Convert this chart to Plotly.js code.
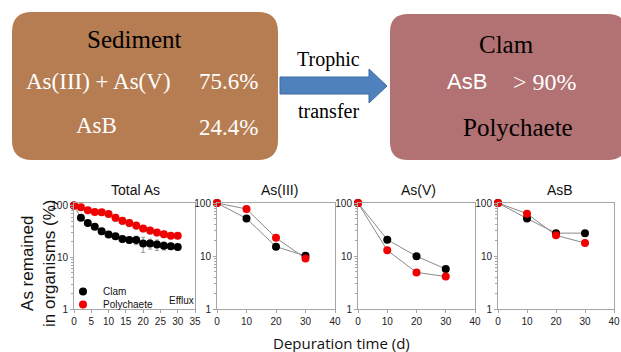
<!DOCTYPE html>
<html>
<head>
<meta charset="utf-8">
<script src="https://cdn.plot.ly/plotly-3.0.1.min.js"></script>
<style>html,body{margin:0;padding:0;background:#fff;}#chart{width:621px;height:352px;}</style>
</head>
<body>
<div id="chart"></div>
<script>
// ---- data ----
const totalDays = [0, 2, 4, 6, 8, 10, 12, 14, 16, 18, 20, 22, 24, 26, 28, 30];
const totalClam = [100, 58, 46, 39, 32, 27.5, 25.5, 22.6, 21.6, 21.6, 18.4, 18.4, 17.6, 16.8, 16.3, 15.8];
const totalClamErr = [0, 3, 3, 3, 3, 3, 3, 3, 3, 4, 6, 4, 4, 3, 2, 2];
const totalPoly = [100, 93, 81, 75, 74, 69, 58, 51, 46, 41, 36, 33, 30, 28, 26, 26];
const totalPolyErr = [0, 3, 4, 4, 5, 6, 8, 8, 7, 6, 5, 5, 4, 4, 3, 3];

const specDays = [0, 10, 20, 30];
const as3Clam = [100, 51, 15, 10.1];
const as3Poly = [100, 77, 22, 9.0];
const as5Clam = [100, 20.3, 9.9, 5.7];
const as5Poly = [100, 12.8, 4.9, 4.1];
const asbClam = [100, 51, 27, 27];
const asbPoly = [100, 63, 24.5, 17.6];

const seriesNames = ['Clam', 'Polychaete'];
const panelTitles = ['Total As', 'As(III)', 'As(V)', 'AsB'];
const yTitle = 'As remained<br>in organisms (%)';
const xTitle = 'Depuration time (d)';

// ---- helpers ----
const W = 621, H = 352;
const X = v => v / W;
const Y = v => 1 - v / H;

const BLACK = '#000000', RED = '#f00000', LINE = '#8a8a8a', AX = '#a6a6a6';
const SANS = 'Liberation Sans, Arial, sans-serif';
const SERIF = 'Liberation Serif, Times New Roman, serif';

const panels = [
  {x: totalDays, c: totalClam, p: totalPoly, ce: totalClamErr, pe: totalPolyErr},
  {x: specDays, c: as3Clam, p: as3Poly},
  {x: specDays, c: as5Clam, p: as5Poly},
  {x: specDays, c: asbClam, p: asbPoly}
];

const traces = [];
panels.forEach((pn, i) => {
  const xa = i === 0 ? 'x' : 'x' + (i + 1);
  const ya = i === 0 ? 'y' : 'y' + (i + 1);
  [pn.c, pn.p].forEach(vals => {
    traces.push({type: 'scatter', mode: 'lines', x: pn.x, y: vals, xaxis: xa, yaxis: ya,
      line: {color: LINE, width: 1}, showlegend: false, hoverinfo: 'skip', cliponaxis: false});
  });
  [[pn.c, BLACK, pn.ce, 0], [pn.p, RED, pn.pe, 1]].forEach(([vals, col, err, k]) => {
    const t = {type: 'scatter', mode: 'markers', x: pn.x, y: vals, xaxis: xa, yaxis: ya,
      name: seriesNames[k], marker: {color: col, size: 8},
      showlegend: i === 0, legend: k === 0 ? 'legend' : 'legend2', cliponaxis: false};
    if (err) t.error_y = {type: 'data', array: err, visible: true, color: '#999', thickness: 1, width: 2};
    traces.push(t);
  });
});

const doms = [[74, 195, 35, 5, 2.05], [217, 335, 40, 10, 2], [358, 475, 40, 10, 2], [498, 614, 40, 10, 2]];
const legBase = {xanchor: 'left', yanchor: 'top', bgcolor: 'rgba(0,0,0,0)',
  font: {family: SANS, size: 10, color: '#111'}, itemwidth: 30};
const layout = {
  width: W, height: H, margin: {l: 0, r: 0, t: 0, b: 0},
  paper_bgcolor: '#ffffff', plot_bgcolor: 'rgba(0,0,0,0)',
  font: {family: SANS, size: 10, color: '#222'},
  showlegend: true,
  legend: Object.assign({x: X(63), y: Y(277)}, legBase),
  legend2: Object.assign({x: X(63), y: Y(290)}, legBase),
  shapes: [], annotations: []
};
doms.forEach((d, i) => {
  const sfx = i === 0 ? '' : String(i + 1);
  layout['xaxis' + sfx] = {domain: [X(d[0]), X(d[1])], range: [0, d[2]], dtick: d[3], tick0: 0,
    anchor: 'y' + sfx, showline: true, linecolor: AX, linewidth: 1, mirror: true,
    ticks: 'outside', ticklen: 3, tickcolor: AX, showgrid: false, zeroline: false,
    tickfont: {family: SANS, size: 10, color: '#222'}};
  layout['yaxis' + sfx] = {domain: [Y(309), Y(203)], type: 'log', range: [0, d[4]], dtick: 1,
    anchor: 'x' + sfx, showline: true, linecolor: AX, linewidth: 1, mirror: true,
    ticks: 'outside', ticklen: 3, tickcolor: AX, showgrid: false, zeroline: false,
    minor: {dtick: 'D1', ticks: 'outside', ticklen: 2, tickcolor: AX, showgrid: false},
    tickfont: {family: SANS, size: 10, color: '#222'}};
});

// rounded rectangle path in paper coordinates
function rr(x0, y0, x1, y1, r) {
  const P = (a, b) => X(a) + ',' + Y(b);
  return 'M' + P(x0 + r, y0) + ' L' + P(x1 - r, y0) + ' Q' + P(x1, y0) + ' ' + P(x1, y0 + r) +
    ' L' + P(x1, y1 - r) + ' Q' + P(x1, y1) + ' ' + P(x1 - r, y1) +
    ' L' + P(x0 + r, y1) + ' Q' + P(x0, y1) + ' ' + P(x0, y1 - r) +
    ' L' + P(x0, y0 + r) + ' Q' + P(x0, y0) + ' ' + P(x0 + r, y0) + ' Z';
}
function poly(pts) {
  return 'M' + pts.map(p => X(p[0]) + ',' + Y(p[1])).join(' L') + ' Z';
}
layout.shapes.push({type: 'path', xref: 'paper', yref: 'paper', path: rr(12, 12, 278, 160, 20),
  fillcolor: '#b67d52', line: {width: 0}, layer: 'below'});
layout.shapes.push({type: 'path', xref: 'paper', yref: 'paper', path: rr(390, 14, 626, 160, 18),
  fillcolor: '#b27172', line: {width: 0}, layer: 'below'});
layout.shapes.push({type: 'path', xref: 'paper', yref: 'paper',
  path: poly([[280, 77], [369, 77], [369, 69], [387, 86], [369, 103], [369, 94], [280, 94]]),
  fillcolor: '#4f81bd', line: {color: '#3d6ba3', width: 1}, layer: 'below'});

function ann(text, x, y, size, color, family, extra) {
  layout.annotations.push(Object.assign({text: text, x: X(x), y: Y(y), xref: 'paper', yref: 'paper',
    xanchor: 'center', yanchor: 'middle', showarrow: false,
    font: {family: family, size: size, color: color}}, extra || {}));
}
ann('Sediment', 134, 39, 25, '#000', SERIF);
ann('As(III) + As(V)', 98, 81, 23, '#fff', SERIF);
ann('75.6%', 228, 82, 23, '#fff', SERIF);
ann('AsB', 96, 126, 23, '#fff', SERIF);
ann('24.4%', 228, 127, 23, '#fff', SERIF);
ann('Trophic', 328, 60, 20, '#000', SERIF);
ann('transfer', 328, 111, 20, '#000', SERIF);
ann('Clam', 506, 45, 25, '#000', SERIF);
ann('AsB', 467, 82, 22, '#fff', SANS);
ann('&gt; 90%', 545, 82, 24, '#fff', SERIF);
ann('Polychaete', 518, 127, 25, '#000', SERIF);

const titleX = [135, 279, 418, 560];
panelTitles.forEach((t, i) => ann(t, titleX[i], 190, 14, '#111', SANS));
ann(yTitle, 38, 263, 17, '#111', SANS, {textangle: -90});
ann(xTitle, 341, 343, 15, '#111', 'Open Sans, sans-serif');
ann('Efflux', 181, 300, 10, '#111', SANS);

Plotly.newPlot('chart', traces, layout, {staticPlot: true, displayModeBar: false});
</script>
</body>
</html>
